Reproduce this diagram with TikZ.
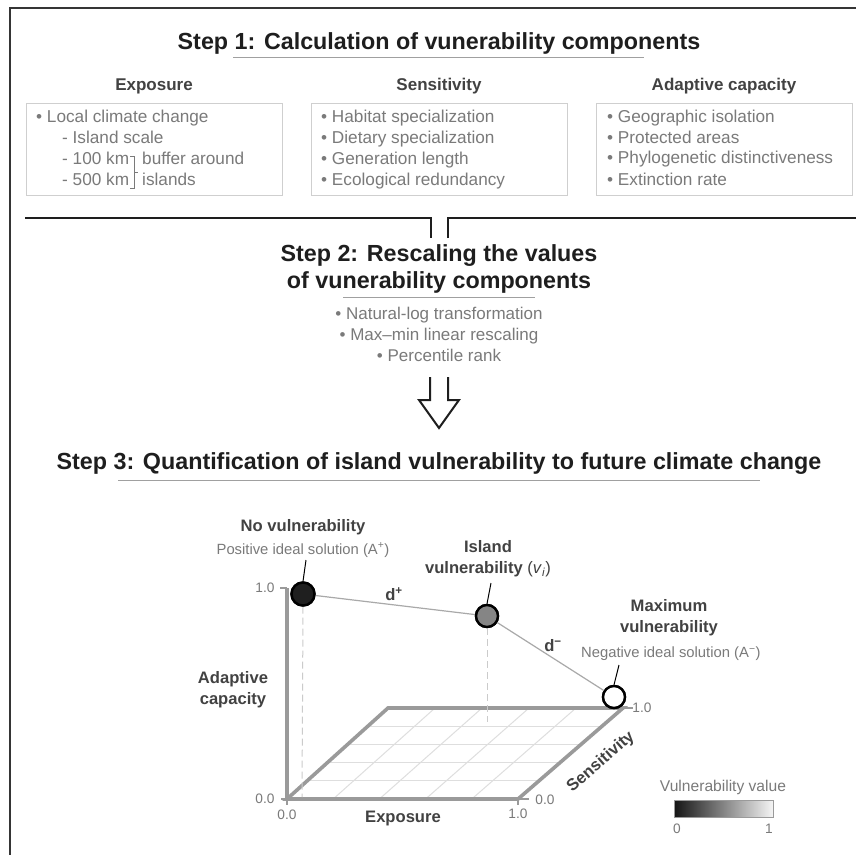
\documentclass[tikz,border=0pt]{standalone}
\usepackage{fontspec}
\setmainfont{Liberation Sans}
\usetikzlibrary{calc}
\definecolor{titlecol}{HTML}{1E1E1E}
\definecolor{headcol}{HTML}{424242}
\definecolor{txtgray}{HTML}{7A7A7A}
\definecolor{boxline}{HTML}{CFCFCF}
\definecolor{axisgray}{HTML}{9A9A9A}
\definecolor{gridgray}{HTML}{DEDEDE}
\definecolor{ulgray}{HTML}{A0A0A0}
\definecolor{ptblack}{HTML}{1F1F1F}
\definecolor{ptgray}{HTML}{858585}
\begin{document}
\begin{tikzpicture}[x=1pt,y=-1pt,
  steptitle/.style={font=\fontsize{23.3}{27}\selectfont\bfseries, text=titlecol, inner sep=0, anchor=base},
  uline/.style={ulgray, line width=0.9pt},
  colhead/.style={font=\fontsize{17}{20}\selectfont\bfseries, text=headcol, inner sep=0},
  cbox/.style={draw=boxline, line width=0.9pt, minimum width=256, minimum height=92, inner sep=0},
  btxt/.style={font=\fontsize{17.2}{20}\selectfont, text=txtgray, inner sep=0, anchor=west, text height=12.4, text depth=3.6},
  ctxt/.style={font=\fontsize{17}{20}\selectfont, text=txtgray, inner sep=0, text height=12.2, text depth=3.5},
  sepline/.style={titlecol, line width=2.4pt},
  frameline/.style={titlecol!90, line width=2.4pt},
  hollowarrow/.style={titlecol, line width=2pt, line join=miter},
  axisline/.style={axisgray, line width=3.6pt},
  gridline/.style={gridgray, line width=1pt},
  plabel/.style={font=\fontsize{16.6}{21}\selectfont\bfseries, text=headcol, inner sep=0, align=center},
  slabel/.style={font=\fontsize{14.8}{17}\selectfont, text=txtgray, inner sep=0},
  ticklab/.style={font=\fontsize{13.7}{16}\selectfont, text=txtgray, inner sep=0},
  pointer/.style={black, line width=1pt},
  joinline/.style={axisgray!85, line width=1.2pt},
  dropline/.style={gridgray!80!gray, line width=1pt, dash pattern=on 7pt off 4pt},
  ptcircle/.style={circle, draw=black, line width=2.4pt, inner sep=0},
]
\useasboundingbox (0,0) rectangle (856,854);
\fill[white] (0,0) rectangle (856,854);

% frame
\coordinate (frBL) at (10,856);
\coordinate (frTL) at (10,8);
\coordinate (frTR) at (858,8);
\draw[frameline] (frBL) -- (frTL) -- (frTR);

% ---------- Step 1 ----------
\node[steptitle] (s1) at (439,49) {Step 1: Calculation of vunerability components};
\coordinate (u1a) at (233,57); \coordinate (u1b) at (644,57);
\draw[uline] (u1a) -- (u1b);

\node[colhead] (hE) at (154,86) {Exposure};
\node[colhead] (hS) at (439,86) {Sensitivity};
\node[colhead] (hA) at (724,86) {Adaptive capacity};

\node[cbox] (bE) at (154,149) {};
\node[cbox] (bS) at (439,149) {};
\node[cbox] (bA) at (724,149) {};

\node[btxt] (e1) at (36,118) {\textbullet\ Local climate change};
\node[btxt] (e2) at (62,139.5) {- Island scale};
\node[btxt] (e3) at (62,160.5) {- 100 km};
\node[btxt] (e4) at (62,181.5) {- 500 km};
\node[btxt] (e5) at (142,160.5) {buffer around};
\node[btxt] (e6) at (142,181.5) {islands};
\coordinate (brT) at (130,156); \coordinate (brT2) at (134,156);
\coordinate (brB) at (130,188); \coordinate (brB2) at (134,188);
\coordinate (brM) at (134,172); \coordinate (brM2) at (138,172);
\draw[txtgray, line width=0.9pt] (brT) -- (brT2) -- (brB2) -- (brB);
\draw[txtgray, line width=0.9pt] (brM) -- (brM2);

\node[btxt] (s1a) at (321,118) {\textbullet\ Habitat specialization};
\node[btxt] (s1b) at (321,139) {\textbullet\ Dietary specialization};
\node[btxt] (s1c) at (321,160) {\textbullet\ Generation length};
\node[btxt] (s1d) at (321,181) {\textbullet\ Ecological redundancy};

\node[btxt] (a1) at (607,118) {\textbullet\ Geographic isolation};
\node[btxt] (a2) at (607,139.5) {\textbullet\ Protected areas};
\node[btxt] (a3) at (607,159.5) {\textbullet\ Phylogenetic distinctiveness};
\node[btxt] (a4) at (607,181) {\textbullet\ Extinction rate};

% separator
\coordinate (sp1) at (25,218); \coordinate (sp2) at (431,218); \coordinate (sp3) at (431,238);
\coordinate (sp4) at (448,238); \coordinate (sp5) at (448,218); \coordinate (sp6) at (858,218);
\draw[sepline, line join=miter] (sp1) -- (sp2) -- (sp3);
\draw[sepline, line join=miter] (sp4) -- (sp5) -- (sp6);

% ---------- Step 2 ----------
\node[steptitle] (s2a) at (439,261) {Step 2: Rescaling the values};
\node[steptitle] (s2b) at (439,288) {of vunerability components};
\coordinate (u2a) at (343,297); \coordinate (u2b) at (535,297);
\draw[uline] (u2a) -- (u2b);
\node[ctxt] (r1) at (439,315) {\textbullet\ Natural-log transformation};
\node[ctxt] (r2) at (439,336.5) {\textbullet\ Max–min linear rescaling};
\node[ctxt] (r3) at (439,357.5) {\textbullet\ Percentile rank};

% hollow arrow
\coordinate (ar1) at (430,377); \coordinate (ar2) at (430,400); \coordinate (ar3) at (419,400);
\coordinate (ar4) at (439,428); \coordinate (ar5) at (459,400); \coordinate (ar6) at (448,400);
\coordinate (ar7) at (448,377);
\draw[hollowarrow] (ar1) -- (ar2) -- (ar3) -- (ar4) -- (ar5) -- (ar6) -- (ar7);

% ---------- Step 3 ----------
\node[steptitle] (s3) at (439,469.5) {Step 3: Quantification of island vulnerability to future climate change};
\coordinate (u3a) at (118,480); \coordinate (u3b) at (760,480);
\draw[uline] (u3a) -- (u3b);

% floor
\coordinate (FL) at (287,799);
\coordinate (FR) at (518,799);
\coordinate (BR) at (623,708);
\coordinate (BL) at (388,708);
\foreach \k in {1,...,4} {
  \draw[gridline] ($(FL)!\k/5!(BL)$) -- ($(FR)!\k/5!(BR)$);
  \draw[gridline] ($(FL)!\k/5!(FR)$) -- ($(BL)!\k/5!(BR)$);
}
\draw[axisline, line join=miter] (FL) -- (BL) -- (BR) -- (FR) -- cycle;

% vertical axis
\coordinate (VT) at (287,588);
\draw[axisline] (FL) -- (VT);
\coordinate (tk1) at (280,588);
\draw[axisgray, line width=2.4pt] (tk1) -- (VT);
\coordinate (tk0) at (281,799);
\draw[axisgray, line width=2.4pt] (tk0) -- (FL);
\coordinate (tk0b) at (287,805);
\draw[axisgray, line width=2.4pt] (FL) -- (tk0b);
\coordinate (tkFRb) at (518,805);
\draw[axisgray, line width=2.4pt] (FR) -- (tkFRb);
\coordinate (tkFR) at (529,799);
\draw[axisgray, line width=2.4pt] (FR) -- (tkFR);
\coordinate (tkBR) at (633,708);
\draw[axisgray, line width=2.4pt] (BR) -- (tkBR);

% tick labels
\node[ticklab] (l10v) at (265,588) {1.0};
\node[ticklab] (l00v) at (265,799) {0.0};
\node[ticklab] (l00e) at (287,815) {0.0};
\node[ticklab] (l10e) at (518,814) {1.0};
\node[ticklab] (l00s) at (545,800) {0.0};
\node[ticklab] (l10s) at (642,708) {1.0};

% axis labels
\node[plabel] (lAC) at (233,690) {Adaptive\\capacity};
\node[plabel] (lEx) at (403,818) {Exposure};
\node[plabel, rotate=41] (lSe) at (601,762) {Sensitivity};

% points
\node[ptcircle, fill=ptblack, minimum size=23] (Ap) at (303,594) {};
\node[ptcircle, fill=ptgray, minimum size=22] (Vi) at (487,616) {};
\node[ptcircle, fill=white, minimum size=22] (Am) at (614,697) {};
\coordinate (Apd) at (302,797);
\coordinate (Vid) at (487,722);
\draw[dropline] (Ap.south) -- (Apd);
\draw[dropline] (Vi.south) -- (Vid);
\draw[joinline] (Ap) -- (Vi);
\draw[joinline] (Vi) -- (Am);
\node[ptcircle, fill=ptblack, minimum size=23] at (Ap) {};
\node[ptcircle, fill=ptgray, minimum size=22] at (Vi) {};
\node[ptcircle, fill=white, minimum size=22] at (Am) {};

\node[plabel] (lNo) at (303,527) {No vulnerability};
\node[slabel] (lPo) at (303,550) {Positive ideal solution (A\textsuperscript{+})};
\node[plabel] (lIs) at (488,559) {Island\\vulnerability \textnormal{(\textit{v}\textsubscript{\textit{i}})}};
\node[plabel] (lMa) at (669,618) {Maximum\\vulnerability};
\node[slabel, anchor=west] (lNe) at (581,654) {Negative ideal solution (A\textsuperscript{−})};

\coordinate (pt1) at (306,560);
\coordinate (pt2) at (491,583);
\coordinate (pt3) at (619,665);
\draw[pointer] (pt1) -- (Ap.north);
\draw[pointer] (pt2) -- (Vi.north);
\draw[pointer] (pt3) -- (Am.north);

\node[plabel] (dp) at (394,594) {d\textsuperscript{+}};
\node[plabel] (dm) at (553,646) {d\textsuperscript{−}};

% colour bar
\node[slabel, font=\fontsize{15.6}{18}\selectfont] (cbt) at (723,787) {Vulnerability value};
\coordinate (cb1) at (674,800); \coordinate (cb2) at (773,817);
\shade[left color=black!92, right color=white!96!black] (cb1) rectangle (cb2);
\draw[axisgray, line width=0.8pt] (cb1) rectangle (cb2);
\node[ticklab] (cb0) at (677,829) {0};
\node[ticklab] (cb9) at (769,829) {1};
\end{tikzpicture}
\end{document}
